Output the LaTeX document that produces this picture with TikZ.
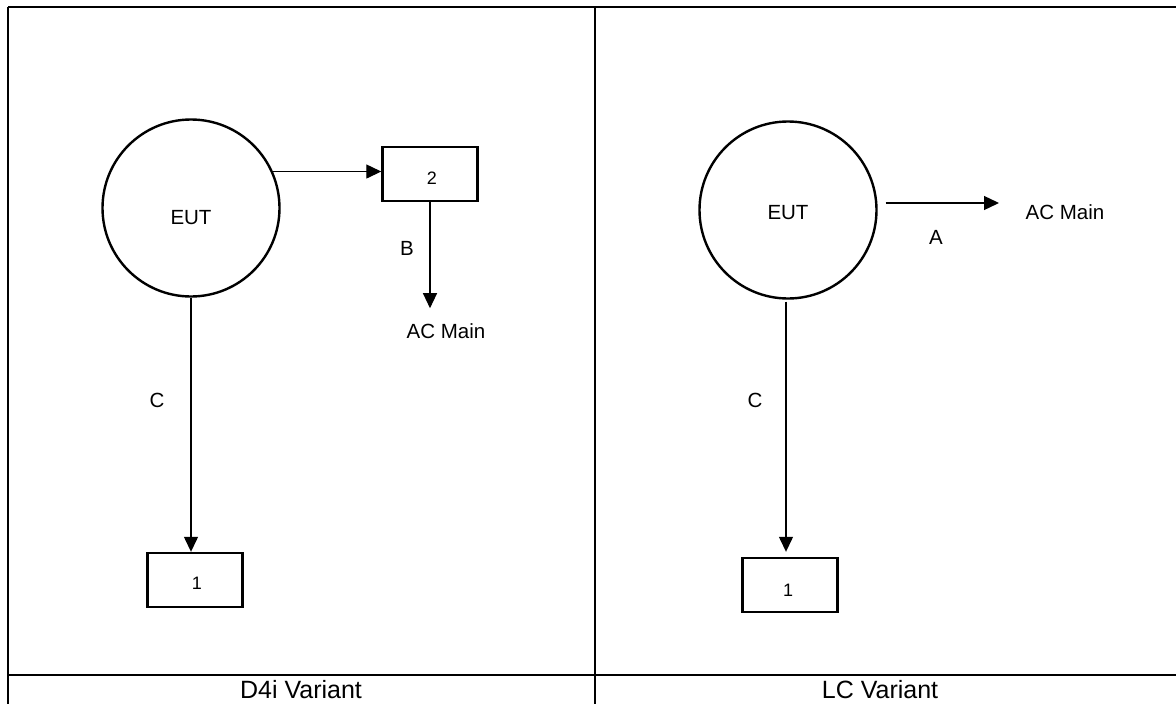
\documentclass[tikz,border=0pt]{standalone}
\usepackage{fontspec}
\setmainfont{Liberation Sans}
\usetikzlibrary{arrows.meta,calc}
\begin{document}
\begin{tikzpicture}[x=1pt,y=-1pt,
  grid/.style={line width=2.6pt},
  eut/.style={circle,draw,line width=2.4pt,minimum size=177pt,inner sep=0pt,text depth=0pt,font=\fontsize{20.5}{24}\selectfont},
  numbox/.style={rectangle,draw,line width=2.4pt,minimum width=95pt,minimum height=54pt,inner sep=0pt,text depth=0pt,font=\fontsize{18}{22}\selectfont},
  lbl/.style={inner sep=0pt,font=\fontsize{20.5}{24}\selectfont},
  captext/.style={inner sep=0pt,font=\fontsize{25}{30}\selectfont},
  conn/.style={line width=1.3pt,-{Triangle[length=15pt,width=14pt]}}]
\useasboundingbox (0,0) rectangle (1176,704);
\fill[white] (0,0) rectangle (1176,704);
% table
\draw[grid] (8,7) -- (1176,7);
\draw[grid] (8,675) -- (1176,675);
\draw[grid] (8,7) -- (8,704);
\draw[grid] (595,7) -- (595,704);
\node[captext] (capL) at (301,690) {D4i Variant};
\node[captext] (capR) at (880,690) {LC Variant};
% left panel
\node[eut,text height=32.7pt] (eutL) at (191,208) {EUT};
\node[numbox,text height=20.9pt] (boxTwo) at (430,174) {\hspace{4pt}2};
\node[numbox,text height=18.9pt] (boxOneL) at (195,580) {\hspace{4pt}1};
\node[lbl] (acL) at (446,331) {AC Main};
\node[lbl] (bL) at (407,248) {B};
\node[lbl] (cL) at (157,400) {C};
\draw[conn] (eutL.24) -- (eutL.24 -| boxTwo.west);
\coordinate (tipB) at ($(boxTwo.south)+(0,106)$);
\draw[conn] (boxTwo.south) -- (tipB);
\draw[conn] (eutL.south) -- (eutL.south |- boxOneL.north);
% right panel
\node[eut,text height=18.7pt] (eutR) at (788,210) {EUT};
\node[numbox,text height=22.9pt] (boxOneR) at (790,585) {\hspace{-4pt}1};
\node[lbl] (acR) at (1065,212) {AC Main};
\node[lbl] (aR) at (936,237) {A};
\node[lbl] (cR) at (755,400) {C};
\coordinate (startA) at ($(eutR.east)+(8,-7)$);
\coordinate (tipA) at (999,203);
\draw[conn] (startA) -- (tipA);
\coordinate (tipC) at ($(boxOneR.north)+(-4,-5)$);
\draw[conn] ($(eutR.south)+(-2,2)$) -- (tipC);
\end{tikzpicture}
\end{document}
